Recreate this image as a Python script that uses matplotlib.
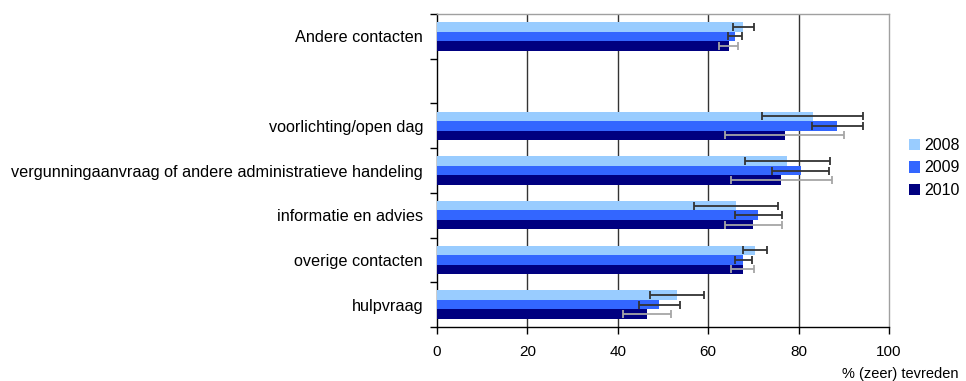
import numpy as np
import matplotlib
matplotlib.use("Agg")
import matplotlib.pyplot as plt
from matplotlib.patches import Patch

plt.rcParams['font.family'] = ['Liberation Sans', 'DejaVu Sans']

categories = ["Andere contacten", "", "voorlichting/open dag",
              "vergunningaanvraag of andere administratieve handeling",
              "informatie en advies", "overige contacten", "hulpvraag"]
years = ["2008", "2009", "2010"]
v2008 = [67.8, np.nan, 83.1, 77.5, 66.2, 70.4, 53.1]
e2008 = [2.3, np.nan, 11.1, 9.4, 9.35, 2.7, 5.95]
v2009 = [65.9, np.nan, 88.6, 80.5, 71.1, 67.8, 49.2]
e2009 = [1.6, np.nan, 5.6, 6.3, 5.2, 1.9, 4.5]
v2010 = [64.5, np.nan, 76.9, 76.2, 70.0, 67.6, 46.5]
e2010 = [2.15, np.nan, 13.1, 11.2, 6.3, 2.5, 5.3]
xticks = [0, 20, 40, 60, 80, 100]

series = [v2008, v2009, v2010]
errors = [e2008, e2009, e2010]
colors = ["#99CCFF", "#3366FF", "#000080"]
ecolors = ["#333333", "#333333", "#A6A6A6"]

W, H = 966, 381
fig = plt.figure(figsize=(W / 100, H / 100), dpi=100)
ax = fig.add_axes([437 / W, 1 - 327 / H, (889 - 437) / W, (327 - 14) / H])

n = len(categories)
y = np.arange(n)
bh = 0.212
offsets = [-bh, 0, bh]
for vals, c, off, lab in zip(series, colors, offsets, years):
    ax.barh(y + off, vals, height=bh, color=c, edgecolor='none', label=lab, zorder=3)
for vals, errs, ec, off in zip(series, errors, ecolors, offsets):
    ax.errorbar(vals, y + off, xerr=errs, fmt='none', ecolor=ec, elinewidth=1.3,
                capsize=3, capthick=1.3, zorder=4)

ax.set_xlim(0, 100)
ax.set_ylim(n - 0.5, -0.5)
ax.set_xticks(xticks)
ax.set_xticklabels([str(t) for t in xticks], fontsize=11)
ax.set_yticks(np.arange(n + 1) - 0.5)
ax.set_yticklabels([])
ax.set_yticks(y, minor=True)
ax.set_yticklabels(categories, minor=True, fontsize=11.7)
ax.tick_params(axis='y', which='minor', length=0, pad=10)
ax.tick_params(axis='y', which='major', length=5, width=1, color='black')
ax.tick_params(axis='x', length=5, width=1, pad=8)

for gx in xticks[1:-1]:
    ax.axvline(gx, color='#333333', linewidth=1, zorder=1)

ax.spines['left'].set_color('black')
ax.spines['bottom'].set_color('black')
ax.spines['top'].set_color('#A0A0A0')
ax.spines['right'].set_color('#A0A0A0')
for s in ax.spines.values():
    s.set_linewidth(1)

handles = [Patch(facecolor=c, edgecolor='none') for c in colors]
fig.legend(handles, years, loc='center left', bbox_to_anchor=(909 / W, 1 - 168 / H),
           frameon=False, fontsize=11.5, handlelength=0.7, handleheight=0.7,
           handletextpad=0.25, labelspacing=0.45, borderpad=0, borderaxespad=0)

fig.text(958 / W, 1 - 374 / H, "% (zeer) tevreden", ha='right', va='center', fontsize=10.5)

fig.savefig("out.png", dpi=100)
